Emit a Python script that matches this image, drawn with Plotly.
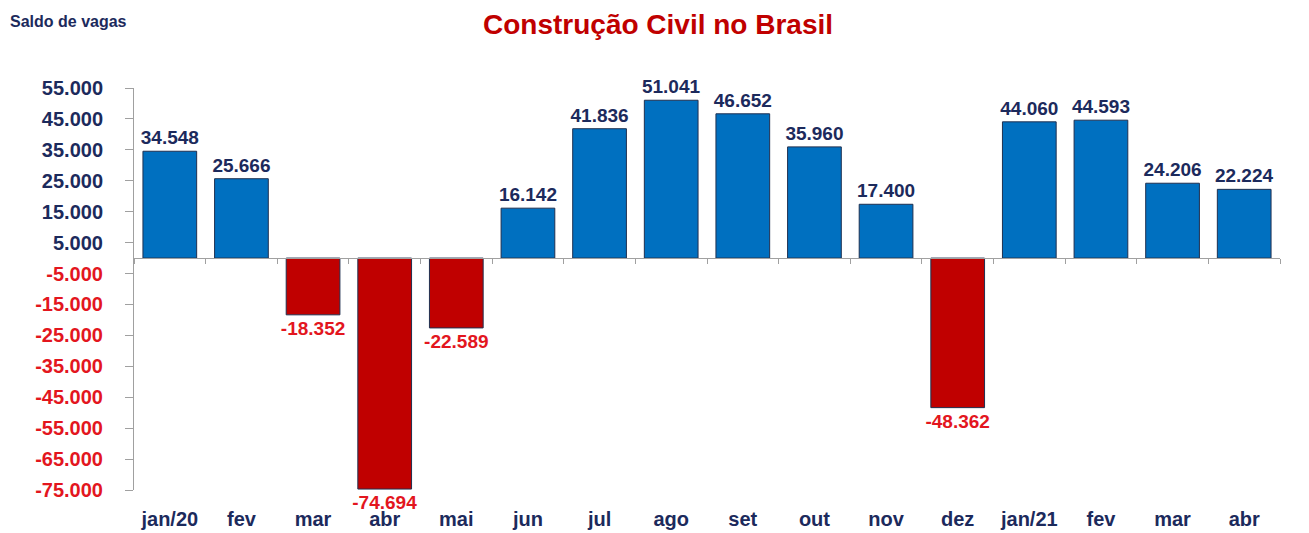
import plotly.graph_objects as go

months = ["jan/20", "fev", "mar", "abr", "mai", "jun", "jul", "ago", "set",
          "out", "nov", "dez", "jan/21", "fev", "mar", "abr"]
values = [34548, 25666, -18352, -74694, -22589, 16142, 41836, 51041, 46652,
          35960, 17400, -48362, 44060, 44593, 24206, 22224]
ytick_vals = [55000, 45000, 35000, 25000, 15000, 5000, -5000, -15000, -25000,
              -35000, -45000, -55000, -65000, -75000]

NAVY = "#1C2A5C"
RED_TXT = "#E3161E"
BLUE = "#0070C0"
RED = "#C00000"
FONT = "Arial, Liberation Sans, sans-serif"

def fmt(v):
    return f"{v:,}".replace(",", ".")

xs = list(range(len(months)))
bar_colors = [BLUE if v >= 0 else RED for v in values]
txt_colors = [NAVY if v >= 0 else RED_TXT for v in values]

ytext = [f'<span style="color:{NAVY if v > 0 else RED_TXT}">{fmt(v)}</span>'
         for v in ytick_vals]

fig = go.Figure()
fig.add_trace(go.Bar(
    x=xs, y=values, width=0.75,
    marker=dict(color=bar_colors, line=dict(color="#1F3050", width=1)),
    text=[fmt(v) for v in values], textposition="outside",
    textfont=dict(color=txt_colors, size=19, family=FONT, weight="bold"),
    constraintext="none", cliponaxis=False, hoverinfo="skip",
))
fig.add_trace(go.Scatter(
    x=xs, y=values, mode="markers", marker=dict(opacity=0),
    xaxis="x2", showlegend=False, hoverinfo="skip",
))

fig.update_layout(
    width=1301, height=525,
    margin=dict(l=126, r=29, t=80, b=43, autoexpand=False),
    paper_bgcolor="white", plot_bgcolor="white",
    showlegend=False,
    xaxis=dict(
        range=[-0.5, len(months) - 0.5],
        tickvals=xs, ticktext=months,
        tickfont=dict(size=20, color=NAVY, family=FONT, weight="bold"),
        showline=False, showgrid=False, zeroline=False,
        ticks="outside", ticklen=11, tickcolor="rgba(0,0,0,0)",
        automargin=False,
    ),
    xaxis2=dict(
        overlaying="x", matches="x", anchor="free",
        position=75000 / 130000,
        tickvals=[i - 0.5 for i in range(len(months) + 1)],
        showticklabels=False, ticks="outside", ticklen=5,
        tickcolor="#A0A0A0", showline=True, linecolor="#A0A0A0",
        linewidth=1, showgrid=False, zeroline=False, automargin=False,
    ),
    yaxis=dict(
        range=[-75000, 55000],
        tickvals=ytick_vals, ticktext=ytext,
        tickfont=dict(size=20, family=FONT, weight="bold"),
        showline=True, linecolor="#A0A0A0", linewidth=1,
        ticks="outside", ticklen=8, tickcolor="#A0A0A0",
        ticklabelstandoff=18,
        showgrid=False, zeroline=False, automargin=False,
    ),
    annotations=[
        dict(text="Construção Civil no Brasil", xref="paper", yref="paper",
             x=0.457, y=1 + 81 / 402, xanchor="center", yanchor="top",
             showarrow=False,
             font=dict(size=28, color=RED, family=FONT, weight="bold")),
        dict(text="Saldo de vagas", xref="paper", yref="paper",
             x=-0.11, y=1 + 66 / 402, xanchor="left", yanchor="middle",
             showarrow=False,
             font=dict(size=16, color=NAVY, family=FONT, weight="bold")),
    ],
)

fig.write_html("out.html")
